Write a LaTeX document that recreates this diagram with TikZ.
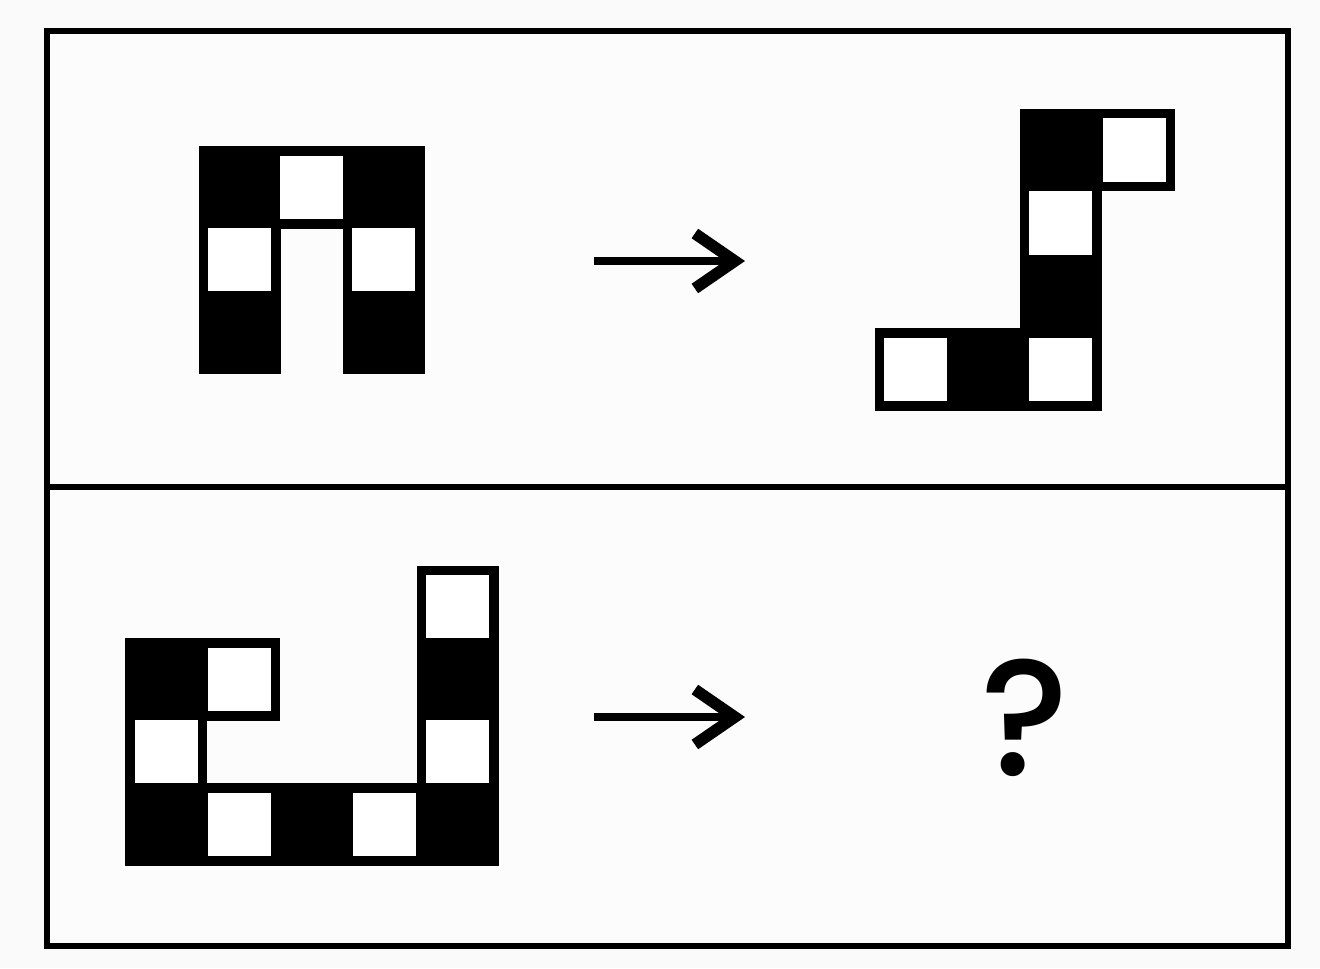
\documentclass[tikz,border=0pt]{standalone}
\usepackage{fontspec}
\newfontfamily\qfont{Poppins Medium}
\usetikzlibrary{arrows.meta}

\begin{document}
\begin{tikzpicture}[x=0.1mm,y=-0.1mm,
  cell/.style={draw=black,line width=0.95mm,minimum width=7.25mm,minimum height=7.3mm,inner sep=0pt},
  bcell/.style={cell,fill=black},
  wcell/.style={cell,fill=white},
  arr/.style={line width=0.8mm,-{Straight Barb[length=4mm,width=5.5mm,line width=1.15mm]}}]
\useasboundingbox (0,0) rectangle (1320,968);
\fill[white!98!black] (0,0) rectangle (1320,968);
\draw[line width=0.6mm,fill=white!99!black] (47,31) rectangle (1288,946);
\draw[line width=0.6mm] (47,487) -- (1288,487);
% top left figure
\node[bcell] (tl-a) at (239.5,187.5) {};
\node[wcell] (tl-b) at (311.7,187.5) {};
\node[bcell] (tl-c) at (383.9,187.5) {};
\node[wcell] (tl-d) at (239.5,260) {};
\node[wcell] (tl-e) at (383.9,260) {};
\node[bcell] (tl-f) at (239.5,332.5) {};
\node[bcell] (tl-g) at (383.9,332.5) {};
% top right figure
\node[bcell] (tr-a) at (1060.8,149.8) {};
\node[wcell] (tr-b) at (1134,149.8) {};
\node[wcell] (tr-c) at (1060.8,223) {};
\node[bcell] (tr-d) at (1060.8,296.3) {};
\node[wcell] (tr-e) at (915.5,369.5) {};
\node[bcell] (tr-f) at (988.2,369.5) {};
\node[wcell] (tr-g) at (1060.8,369.5) {};
% bottom left figure
\node[wcell] (bl-a) at (457.5,607) {};
\node[bcell] (bl-b) at (166,679.5) {};
\node[wcell] (bl-c) at (239,679.5) {};
\node[bcell] (bl-d) at (457.5,679.5) {};
\node[wcell] (bl-e) at (166,752) {};
\node[wcell] (bl-f) at (457.5,752) {};
\node[bcell] (bl-g) at (166,824.5) {};
\node[wcell] (bl-h) at (239,824.5) {};
\node[bcell] (bl-i) at (311.5,824.5) {};
\node[wcell] (bl-j) at (384,824.5) {};
\node[bcell] (bl-k) at (457.5,824.5) {};
% arrows
\coordinate (a1s) at (594,261);
\coordinate (a1e) at (745,261);
\coordinate (a2s) at (594,717);
\coordinate (a2e) at (745,717);
\draw[arr] (a1s) -- (a1e);
\draw[arr] (a2s) -- (a2e);
\node[inner sep=0pt,font=\qfont\fontsize{47}{47}\selectfont] (q) at (1025,718) {?};
\end{tikzpicture}
\end{document}
